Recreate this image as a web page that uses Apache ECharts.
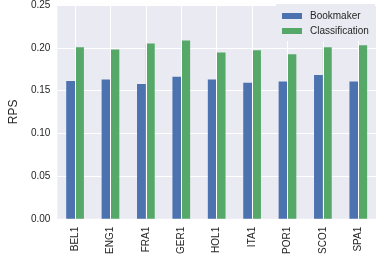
<!DOCTYPE html>
<html><head><meta charset="utf-8">
<script src="https://cdn.jsdelivr.net/npm/echarts@6/dist/echarts.min.js"></script>
<style>html,body{margin:0;padding:0;background:#fff}#c{width:379px;height:257px}</style>
</head><body><div id="c"></div>
<script>
const categories = ['BEL1','ENG1','FRA1','GER1','HOL1','ITA1','POR1','SCO1','SPA1'];
const bookmaker = [0.161, 0.163, 0.1575, 0.166, 0.163, 0.159, 0.1605, 0.168, 0.1605];
const classification = [0.2005, 0.198, 0.205, 0.2085, 0.1945, 0.197, 0.1925, 0.2005, 0.203];
const yTicks = [0, 0.05, 0.10, 0.15, 0.20, 0.25];

const font = 'Liberation Sans, Arial, sans-serif';
const txt = '#262626';
const chart = echarts.init(document.getElementById('c'), null, {renderer:'canvas'});
chart.setOption({
  animation: false,
  textStyle: {fontFamily: font},
  grid: {left: 41, right: 3, top: 4, bottom: 35, show: true, backgroundColor: '#EAEAF2', borderWidth: 0},
  legend: {
    data: ['Bookmaker','Classification'],
    orient: 'vertical', left: 276, top: 4, padding: [6, 6, 4, 6],
    backgroundColor: '#EAEAF2', z: 10,
    icon: 'rect', itemWidth: 20, itemHeight: 6, itemGap: 3,
    textStyle: {fontFamily: font, fontSize: 10, color: txt, padding: [0, 0, 0, 3], lineHeight: 12}
  },
  xAxis: {
    type: 'category', data: categories,
    axisLine: {show: false}, axisTick: {show: false}, splitLine: {show: false},
    axisLabel: {rotate: 90, fontSize: 10, color: txt, margin: 8, fontFamily: font}
  },
  yAxis: {
    type: 'value', min: 0, max: 0.25, interval: 0.05,
    name: 'RPS', nameLocation: 'middle', nameGap: 36,
    nameTextStyle: {fontSize: 12, color: txt, fontFamily: font},
    axisLine: {show: false}, axisTick: {show: false},
    splitLine: {lineStyle: {color: '#ffffff', width: 1}},
    axisLabel: {fontSize: 10, color: txt, margin: 7, fontFamily: font,
      formatter: v => v.toFixed(2)}
  },
  series: [
    {type: 'line', name: 'grid', data: [], z: 1, silent: true,
      markLine: {silent: true, symbol: 'none', label: {show: false},
        lineStyle: {color: '#ffffff', width: 1, type: 'solid'},
        data: categories.map(c => ({xAxis: c}))}},
    {type: 'bar', name: 'Bookmaker', data: bookmaker, z: 3, barWidth: '25%', barGap: '0%',
      itemStyle: {color: '#4C72B0'}},
    {type: 'bar', name: 'Classification', data: classification, z: 3, barWidth: '25%', barGap: '0%',
      itemStyle: {color: '#55A868'}}
  ]
});
</script></body></html>
